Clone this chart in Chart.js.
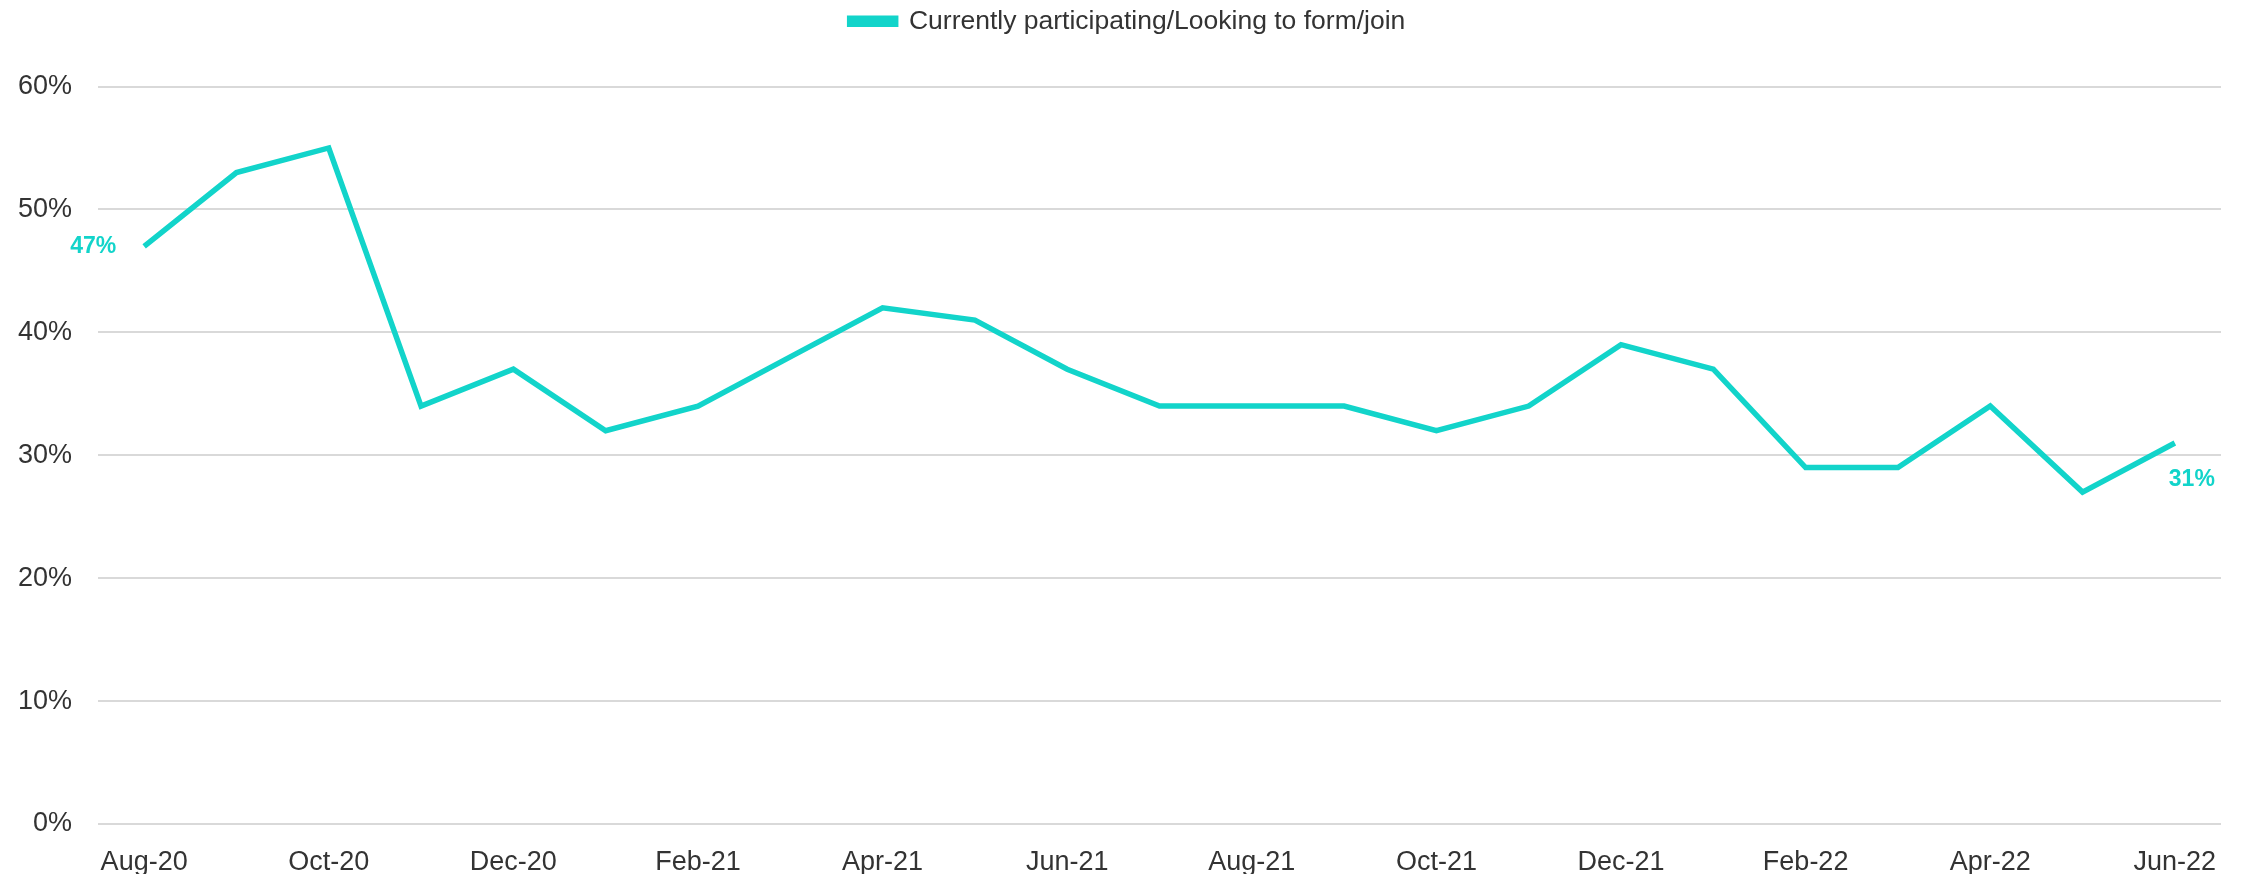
<!DOCTYPE html>
<html>
<head>
<meta charset="utf-8">
<script src="https://cdn.jsdelivr.net/npm/chart.js@4.4.0/dist/chart.umd.min.js"></script>
<style>
    html, body { margin: 0; padding: 0; background: #fff; }
    #wrap { width: 2244px; height: 874px; position: relative; }
</style>
</head>
<body>
<div id="wrap"><canvas id="line-chart"></canvas></div>
<script>
    "use strict";

    // Data
    var months = ["Aug-20", "Sep-20", "Oct-20", "Nov-20", "Dec-20", "Jan-21", "Feb-21", "Mar-21",
        "Apr-21", "May-21", "Jun-21", "Jul-21", "Aug-21", "Sep-21", "Oct-21", "Nov-21", "Dec-21",
        "Jan-22", "Feb-22", "Mar-22", "Apr-22", "May-22", "Jun-22"];
    var participating = [47, 53, 55, 34, 37, 32, 34, 38, 42, 41, 37, 34, 34, 34, 32, 34, 39, 37, 29, 29, 34, 27, 31];
    var seriesName = "Currently participating/Looking to form/join";
    var yTicks = [0, 10, 20, 30, 40, 50, 60];

    var teal = "#12d4ca";
    var font = "'Liberation Sans', Arial, sans-serif";

    // labels on the first and last point
    var endLabels = {
        id: "endLabels",
        afterDatasetsDraw: function (chart) {
            var meta = chart.getDatasetMeta(0);
            var c = chart.ctx;
            var first = meta.data[0];
            var last = meta.data[meta.data.length - 1];
            c.save();
            c.fillStyle = teal;
            c.font = "bold 23px " + font;
            c.textBaseline = "middle";
            c.textAlign = "center";
            c.fillText(participating[0] + "%", first.x - 51, first.y);
            c.fillText(participating[participating.length - 1] + "%", last.x + 17, last.y + 37);
            c.restore();
        }
    };

    // extra space under the legend, legend nudged a bit right
    var legendGap = {
        id: "legendGap",
        beforeInit: function (chart) {
            var fit = chart.legend.fit;
            chart.legend.fit = function () {
                fit.bind(chart.legend)();
                this.height += 42;
            };
        },
        afterLayout: function (chart) {
            chart.legend.left += 17;
            chart.legend.right += 17;
        }
    };

    var ctx = document.getElementById("line-chart").getContext("2d");
    var myChart = new Chart(ctx, {
        type: "line",
        data: {
            labels: months,
            datasets: [{
                label: seriesName,
                data: participating,
                borderColor: teal,
                backgroundColor: teal,
                borderWidth: 5.5,
                pointRadius: 0,
                tension: 0,
                fill: false
            }]
        },
        options: {
            responsive: true,
            maintainAspectRatio: false,
            animation: false,
            layout: { padding: { left: 0, right: 23, top: 2, bottom: 0 } },
            plugins: {
                tooltip: { enabled: false },
                legend: {
                    position: "top",
                    labels: {
                        boxWidth: 46,
                        boxHeight: 6,
                        padding: 6,
                        color: "#333",
                        font: { family: font, size: 26.5 }
                    }
                }
            },
            scales: {
                x: {
                    offset: true,
                    afterFit: function (axis) { axis.height = 50; },
                    grid: { display: false },
                    border: { display: false },
                    ticks: {
                        autoSkip: false,
                        maxRotation: 0,
                        padding: 14,
                        color: "#333",
                        font: { family: font, size: 27 },
                        callback: function (val, i) {
                            return i % 2 === 0 ? months[i] : "";
                        }
                    }
                },
                y: {
                    min: 0,
                    max: 60,
                    afterFit: function (axis) { axis.width = 98; },
                    afterBuildTicks: function (axis) {
                        axis.ticks = yTicks.map(function (v) { return { value: v }; });
                    },
                    grid: { color: "#d9d9d9", lineWidth: 2, drawTicks: false },
                    border: { display: false },
                    ticks: {
                        padding: 26,
                        color: "#333",
                        font: { family: font, size: 27 },
                        callback: function (v) { return v + "%"; }
                    }
                }
            }
        },
        plugins: [endLabels, legendGap]
    });
</script>
</body>
</html>
